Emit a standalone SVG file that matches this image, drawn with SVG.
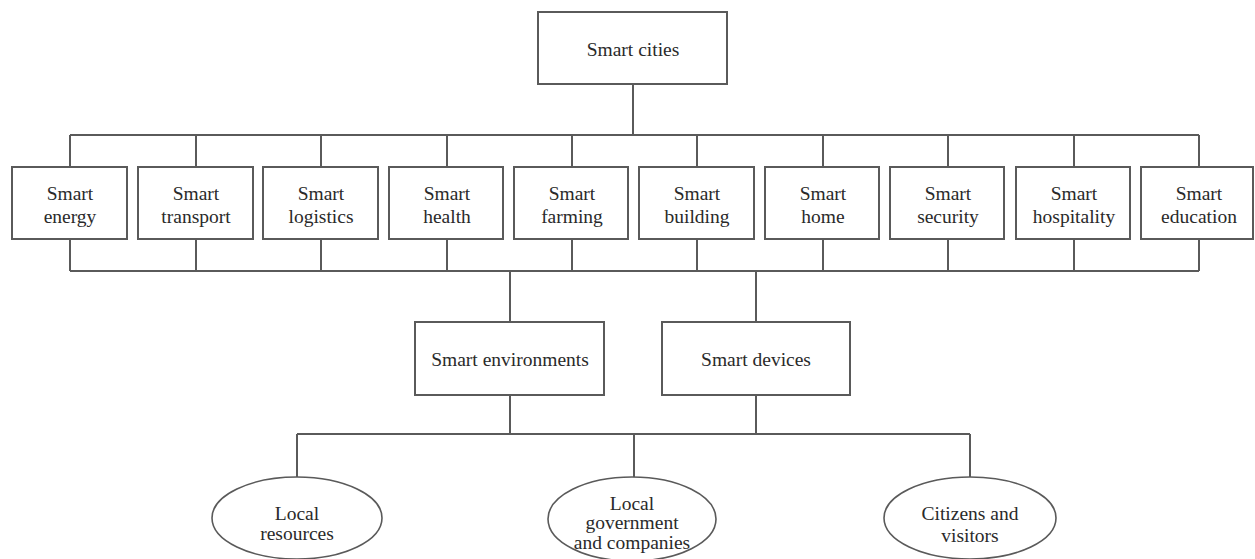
<svg xmlns="http://www.w3.org/2000/svg" width="1255" height="559" viewBox="0 0 1255 559">
<style>
.box{fill:#fff;stroke:#5a5a5a;stroke-width:2}
.ell{fill:#fff;stroke:#5a5a5a;stroke-width:1.6}
.t{font-family:"Liberation Serif","Times New Roman",serif;font-size:19.5px;fill:#2a2a2a;text-anchor:middle}
.c{fill:none;stroke:#5a5a5a;stroke-width:2}
</style>
<rect width="1255" height="559" fill="#fff"/>
<g id="connectors" class="c">
<path d="M633 84V135M70 135H1199"/>
<path d="M70 135V167M196 135V167M321 135V167M447 135V167M572 135V167M697 135V167M823 135V167M948 135V167M1074 135V167M1199 135V167"/>
<path d="M70 239V271M196 239V271M321 239V271M447 239V271M572 239V271M697 239V271M823 239V271M948 239V271M1074 239V271M1199 239V271M70 271H1199"/>
<path d="M510 271V322M756 271V322"/>
<path d="M510 395V434M756 395V434M297 434H970"/>
<path d="M297 434V477M634 434V477M970 434V477"/>
</g>
<g id="smart-cities"><rect class="box" x="538" y="12" width="189" height="72"/><text class="t" x="633" y="56">Smart cities</text></g>
<g id="smart-energy"><rect class="box" x="12" y="167" width="115" height="72"/><text class="t" x="70" y="200">Smart</text><text class="t" x="70" y="223">energy</text></g>
<g id="smart-transport"><rect class="box" x="138" y="167" width="115" height="72"/><text class="t" x="196" y="200">Smart</text><text class="t" x="196" y="223">transport</text></g>
<g id="smart-logistics"><rect class="box" x="263" y="167" width="115" height="72"/><text class="t" x="321" y="200">Smart</text><text class="t" x="321" y="223">logistics</text></g>
<g id="smart-health"><rect class="box" x="389" y="167" width="114" height="72"/><text class="t" x="447" y="200">Smart</text><text class="t" x="447" y="223">health</text></g>
<g id="smart-farming"><rect class="box" x="514" y="167" width="114" height="72"/><text class="t" x="572" y="200">Smart</text><text class="t" x="572" y="223">farming</text></g>
<g id="smart-building"><rect class="box" x="639" y="167" width="115" height="72"/><text class="t" x="697" y="200">Smart</text><text class="t" x="697" y="223">building</text></g>
<g id="smart-home"><rect class="box" x="765" y="167" width="114" height="72"/><text class="t" x="823" y="200">Smart</text><text class="t" x="823" y="223">home</text></g>
<g id="smart-security"><rect class="box" x="890" y="167" width="114" height="72"/><text class="t" x="948" y="200">Smart</text><text class="t" x="948" y="223">security</text></g>
<g id="smart-hospitality"><rect class="box" x="1016" y="167" width="114" height="72"/><text class="t" x="1074" y="200">Smart</text><text class="t" x="1074" y="223">hospitality</text></g>
<g id="smart-education"><rect class="box" x="1141" y="167" width="112" height="72"/><text class="t" x="1199" y="200">Smart</text><text class="t" x="1199" y="223">education</text></g>
<g id="smart-environments"><rect class="box" x="415" y="322" width="189" height="73"/><text class="t" x="510" y="366">Smart environments</text></g>
<g id="smart-devices"><rect class="box" x="662" y="322" width="188" height="73"/><text class="t" x="756" y="366">Smart devices</text></g>
<g id="local-resources"><ellipse class="ell" cx="297" cy="518" rx="85" ry="41"/><text class="t" x="297" y="520">Local</text><text class="t" x="297" y="540">resources</text></g>
<g id="local-government"><ellipse class="ell" cx="632" cy="519" rx="84" ry="42"/><text class="t" x="632" y="510">Local</text><text class="t" x="632" y="529">government</text><text class="t" x="632" y="549">and companies</text></g>
<g id="citizens"><ellipse class="ell" cx="970" cy="518" rx="86" ry="41"/><text class="t" x="970" y="520">Citizens and</text><text class="t" x="970" y="542">visitors</text></g>
</svg>
